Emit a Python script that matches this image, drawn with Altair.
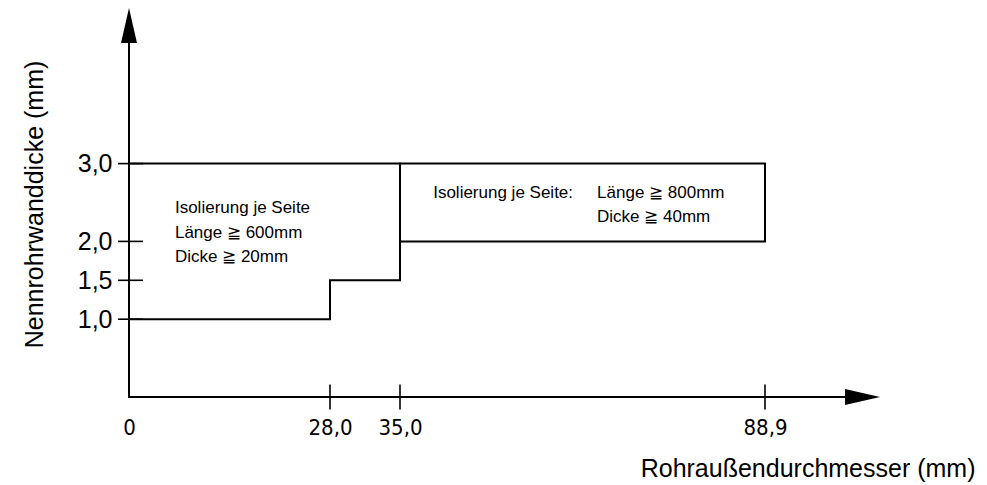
import altair as alt
import pandas as pd

# ---- data ----
x_ticks = [0, 28.0, 35.0, 88.9]          # Rohraußendurchmesser (mm)
y_ticks = [1.0, 1.5, 2.0, 3.0]           # Nennrohrwanddicke (mm)
x_end = 105.0                            # notional end of the x arrow
y_end = 5.0                              # notional end of the y arrow

# lower boundary (step) and the upper region boundary
step_x = [0, 28.0, 28.0, 35.0, 35.0]
step_y = [1.0, 1.0, 1.5, 1.5, 3.0]
upper_x = [0, 88.9, 88.9, 35.0]
upper_y = [3.0, 3.0, 2.0, 2.0]

left_lines = ["Isolierung je Seite", "Länge ≧ 600mm", "Dicke ≧ 20mm"]
right_head = "Isolierung je Seite:"
right_lines = ["Länge ≧ 800mm", "Dicke ≧ 40mm"]

# annotation anchors (data units)
left_anchor = (6.4, 2.365)
right_head_anchor = (39.9, 2.558)
right_anchor = (64.1, 2.558)

# ---- tables ----
rows = []
for i, (a, b) in enumerate(zip(step_x, step_y)):
    rows.append({"path": "step", "o": i, "x": a, "y": b})
for i, (a, b) in enumerate(zip(upper_x, upper_y)):
    rows.append({"path": "upper", "o": i, "x": a, "y": b})
axis_pts = [(0, 4.6), (0, 0), (x_end - 3, 0)]
for i, (a, b) in enumerate(axis_pts):
    rows.append({"path": "axes", "o": i, "x": a, "y": b})
lines_df = pd.DataFrame(rows)

xt_df = pd.DataFrame({"x": x_ticks[1:], "y": [0.0] * 3})
yt_df = pd.DataFrame({"x": [0.0] * 4, "y": y_ticks})
yarrow_df = pd.DataFrame({"x": [0.0], "y": [y_end]})
xarrow_df = pd.DataFrame({"x": [x_end], "y": [0.0]})
text_df = pd.DataFrame({
    "x": [left_anchor[0], right_head_anchor[0], right_anchor[0]],
    "y": [left_anchor[1], right_head_anchor[1], right_anchor[1]],
    "t": ["\n".join(left_lines), right_head, "\n".join(right_lines)],
})

WIDE = "Liberation Sans, Arial, sans-serif"
NARROW = "'Liberation Sans Narrow', 'Arial Narrow', 'DejaVu Sans Condensed', Liberation Sans, sans-serif"

xscale = alt.Scale(domain=x_ticks + [x_end], range=[0, 201, 271, 636, 751])
yscale = alt.Scale(domain=[0, y_end], nice=False, zero=False)

X = alt.X("x:Q", scale=xscale, axis=alt.Axis(
    values=x_ticks,
    labelExpr="datum.value == 0 ? '0' : replace(format(datum.value, '.1f'), '.', ',')",
    labelFont=NARROW, labelFontSize=22, labelColor="black",
    labelBaseline="middle", labelPadding=30, labelFlush=False, labelOverlap=False,
    ticks=False, tickSize=0, domain=False, grid=False,
    title="Rohraußendurchmesser (mm)", titleFont=WIDE, titleFontSize=25,
    titleFontWeight="normal", titleColor="black",
    titleX=846, titleY=71, titleAlign="right", titleBaseline="middle",
))
Y = alt.Y("y:Q", scale=yscale, axis=alt.Axis(
    values=y_ticks,
    labelExpr="replace(format(datum.value, '.1f'), '.', ',')",
    labelFont=WIDE, labelFontSize=25, labelColor="black",
    labelPadding=17, labelFlush=False, labelOverlap=False,
    ticks=False, tickSize=0, domain=False, grid=False,
    title="Nennrohrwanddicke (mm)", titleFont=WIDE, titleFontSize=25,
    titleFontWeight="normal", titleColor="black",
    titleX=-95, titleY=196, titleAngle=270, titleAlign="center", titleBaseline="middle",
))

lines = alt.Chart(lines_df).mark_line(
    color="black", strokeWidth=2, strokeJoin="miter", strokeCap="square"
).encode(x=X, y=Y, detail="path:N", order="o:Q")

xticks = alt.Chart(xt_df).mark_tick(
    orient="vertical", size=25, thickness=1.6, color="black", opacity=1
).encode(x=X, y=Y)

yticks = alt.Chart(yt_df).mark_tick(
    orient="horizontal", size=25, thickness=1.6, color="black", opacity=1, xOffset=1.5
).encode(x=X, y=Y)

yarrow = alt.Chart(yarrow_df).mark_point(
    shape="M0,0L0.457,2L-0.457,2Z", size=1225, filled=True, color="black",
    opacity=1, strokeWidth=0
).encode(x=X, y=Y)

xarrow = alt.Chart(xarrow_df).mark_point(
    shape="M0,0L-2,0.457L-2,-0.457Z", size=1225, filled=True, color="black",
    opacity=1, strokeWidth=0
).encode(x=X, y=Y)

texts = alt.Chart(text_df).mark_text(
    align="left", baseline="alphabetic", font=WIDE, fontSize=17,
    color="black", lineBreak="\n", lineHeight=24.5
).encode(x=X, y=Y, text="t:N")

chart = alt.layer(lines, xticks, yticks, yarrow, xarrow, texts).properties(
    width=850, height=389,
    padding={"left": 121, "top": 0, "right": 0, "bottom": 85},
    autosize=alt.AutoSizeParams(type="none"),
).configure(background="white").configure_view(strokeWidth=0, stroke="transparent")

chart.save("out.html", embed_options={"renderer": "svg", "actions": False})
